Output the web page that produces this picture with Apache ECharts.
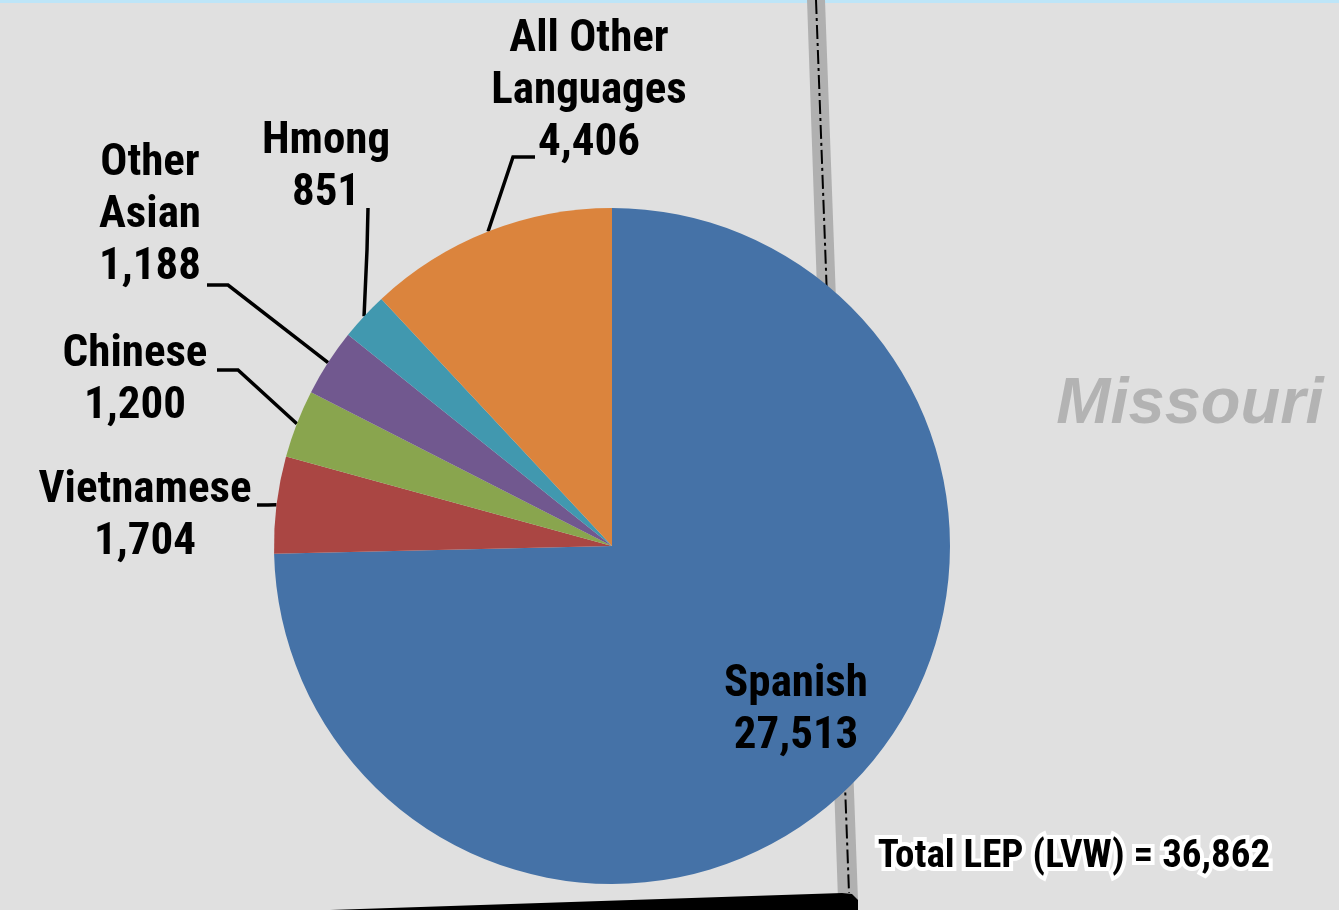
<!DOCTYPE html>
<html>
<head>
<meta charset="utf-8">
<script src="https://cdn.jsdelivr.net/npm/echarts@6/dist/echarts.min.js"></script>
<style>
html,body{margin:0;padding:0;background:#e0e0e0;}
#chart{width:1339px;height:910px;}
</style>
</head>
<body>
<div id="chart"></div>
<script>
// ---- data ----
var categories = ['Spanish', 'Vietnamese', 'Chinese', 'Other Asian', 'Hmong', 'All Other Languages'];
var labelNames = ['Spanish', 'Vietnamese', 'Chinese', 'Other\nAsian', 'Hmong', 'All Other\nLanguages'];
var values = [27513, 1704, 1200, 1188, 851, 4406];
var totalLabel = 'Total LEP (LVW) = 36,862';
var regionLabel = 'Missouri';

// ---- styling / layout ----
var colors = ['#4572a7', '#aa4643', '#89a54e', '#71588f', '#4198af', '#db843d'];
var FONT = "'Roboto Condensed', 'Liberation Sans Narrow', sans-serif";
// label block centres and leader line elbow/end points (layout, not data)
var labelPos = [[796, 711], [145, 517], [135, 381], [150, 216], [326, 168], [589, 92]];
var leaderTail = [
  null,
  [[268, 505], [257, 505]],
  [[238, 370], [217, 370]],
  [[228, 285], [207, 285]],
  [[367, 250], [368, 208]],
  [[513, 157], [535, 157]]
];

var chart = echarts.init(document.getElementById('chart'), null, {renderer: 'canvas'});

var seriesData = categories.map(function (c, i) {
  var item = {name: c, value: values[i], itemStyle: {color: colors[i]}};
  if (i === 0) {
    item.label = {position: 'inside'};
    item.labelLine = {show: false};
  }
  return item;
});

chart.setOption({
  backgroundColor: '#e0e0e0',
  animation: false,
  graphic: [
    {type: 'rect', shape: {x: 0, y: 0, width: 1339, height: 3}, style: {fill: '#bde5f8'}, z: 0},
    {type: 'polygon', shape: {points: [[807, 0], [825, 0], [858, 900], [838, 900]]}, style: {fill: '#b0b0b0'}, z: 0},
    {type: 'line', shape: {x1: 816, y1: 0, x2: 849, y2: 893}, style: {stroke: '#000', lineWidth: 2, lineDash: [14, 4, 3, 4]}, z: 1},
    {type: 'polygon', shape: {points: [[330, 910], [842, 893], [852, 894], [858, 900], [858, 910]]}, style: {fill: '#000'}, z: 1},
    {type: 'text', x: 1190, y: 405, z: 10,
      style: {text: regionLabel, font: "italic bold 65px 'Liberation Sans', Arial, sans-serif", fill: '#b3b3b3', textAlign: 'center', textVerticalAlign: 'middle'}},
    {type: 'text', x: 1074, y: 857, z: 10,
      style: {text: totalLabel, font: 'bold 39px ' + FONT, fill: '#000', stroke: '#fff', lineWidth: 8, textAlign: 'center', textVerticalAlign: 'middle'}}
  ],
  series: [{
    type: 'pie',
    center: [612, 546],
    radius: 338,
    startAngle: 90,
    clockwise: true,
    avoidLabelOverlap: false,
    minShowLabelAngle: 0,
    itemStyle: {borderWidth: 0},
    label: {
      show: true,
      position: 'outside',
      formatter: function (p) {
        return labelNames[p.dataIndex] + '\n' + p.value.toLocaleString('en-US');
      },
      fontFamily: FONT,
      fontWeight: 'bold',
      fontSize: 45,
      lineHeight: 52,
      color: '#000',
      align: 'center'
    },
    labelLine: {show: true, lineStyle: {color: '#000', width: 3.5}},
    labelLayout: function (params) {
      var i = params.dataIndex;
      var out = {x: labelPos[i][0], y: labelPos[i][1], align: 'center', verticalAlign: 'middle'};
      if (leaderTail[i] && params.labelLinePoints) {
        out.labelLinePoints = [params.labelLinePoints[0], leaderTail[i][0], leaderTail[i][1]];
      }
      return out;
    },
    data: seriesData
  }]
});
</script>
</body>
</html>
